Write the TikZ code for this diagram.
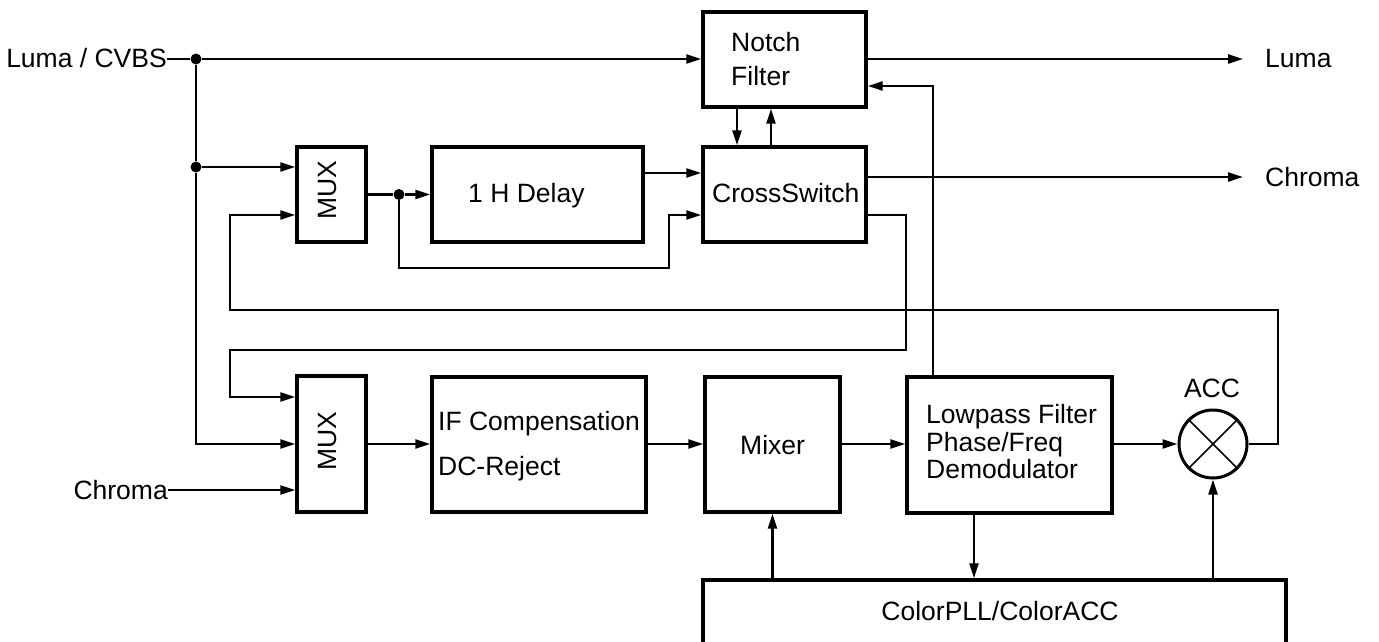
\documentclass[tikz,border=0pt]{standalone}
\usepackage{fontspec}
\setmainfont{Liberation Sans}
\usetikzlibrary{arrows.meta}
\begin{document}
\begin{tikzpicture}[x=1pt,y=-1pt,
  box/.style={draw,line width=3.4pt,rectangle,inner sep=0pt},
  lbl/.style={inner sep=0pt,font=\fontsize{26.5}{30}\selectfont},
  wire/.style={line width=2.2pt},
  arr/.style={wire,-{Triangle[length=15pt,width=9pt]}},
  jdot/.style={circle,fill,inner sep=0pt,minimum size=11pt}]
\useasboundingbox (0,0) rectangle (1379,642);
% blocks
\node[box,minimum width=69pt,minimum height=95pt] (umux) at (331.5,194.5) {};
\node[box,minimum width=211pt,minimum height=95pt] (delay) at (537.5,194.5) {};
\node[box,minimum width=163pt,minimum height=95pt] (cross) at (784.5,194.5) {};
\node[box,minimum width=163pt,minimum height=95pt] (notch) at (784.5,59.5) {};
\node[box,minimum width=69pt,minimum height=136pt] (lmux) at (331.5,444) {};
\node[box,minimum width=214pt,minimum height=135pt] (ifc) at (539,444.5) {};
\node[box,minimum width=135pt,minimum height=135pt] (mixer) at (772.5,444.5) {};
\node[box,minimum width=205pt,minimum height=136pt] (lpf) at (1009.5,445) {};
\node[box,minimum width=583pt,minimum height=80pt] (pll) at (994.5,620) {};
\node[draw,circle,line width=3pt,minimum size=68pt,inner sep=0pt] (acc) at (1213,444) {};
\draw[line width=1.5pt] (acc.north west) -- (acc.south east) (acc.north east) -- (acc.south west);
% texts
\node[lbl,anchor=base east] (lumain) at (167,67) {Luma / CVBS};
\node[lbl,anchor=base east] (chromain) at (168,499) {Chroma};
\node[lbl,anchor=base west] (notchA) at (731,52) {Notch};
\node[lbl,anchor=base west] (notchB) at (731,85) {Filter};
\node[lbl,anchor=base west] (delayT) at (468,202) {1 H Delay};
\node[lbl,anchor=base west] (crossT) at (712,202) {CrossSwitch};
\node[lbl,rotate=90] (umuxT) at (328,190.5) {MUX};
\node[lbl,rotate=90] (lmuxT) at (328,441.5) {MUX};
\node[lbl,anchor=base west] (ifA) at (438,430) {IF Compensation};
\node[lbl,anchor=base west] (ifB) at (438,475) {DC-Reject};
\node[lbl,anchor=base west] (mixT) at (740,454) {Mixer};
\node[lbl,anchor=base west] (lpfA) at (926,423) {Lowpass Filter};
\node[lbl,anchor=base west] (lpfB) at (926,451) {Phase/Freq};
\node[lbl,anchor=base west] (lpfC) at (926,478) {Demodulator};
\node[lbl,anchor=base] (accT) at (1212,397) {ACC};
\node[lbl,anchor=base] (pllT) at (1000,620) {ColorPLL/ColorACC};
\node[lbl,anchor=base west] (lumaout) at (1265,68) {Luma};
\node[lbl,anchor=base west] (chromaout) at (1265,186) {Chroma};
% junctions and ends
\node[jdot] (d1) at (196,59) {};
\node[jdot] (d2) at (196,167) {};
\node[jdot] (d3) at (399,194.5) {};
\coordinate (lumaend) at (1243,59);
\coordinate (chromaend) at (1243,177);
% connectors
\draw[wire] (lumain.east |- d1) -- (d1);
\draw[arr] (d1) -- (d1 -| notch.west);
\draw[wire] (d1) -- (d2);
\draw[arr] (d2) -- (d2 -| umux.west);
\draw[arr] (d2) |- (lmux.west);
\draw[wire] (umux.east) -- (d3);
\draw[arr] (d3) -- (delay.west);
\draw[arr] (d3) -- (399,268) -- (669,268) -- (669,215) -- (cross.west |- 0,215);
\draw[arr] (delay.east |- 0,173) -- (cross.west |- 0,173);
\draw[arr] (notch.south -| 737,0) -- (cross.north -| 737,0);
\draw[arr] (cross.north -| 771,0) -- (notch.south -| 771,0);
\draw[arr] (notch.east |- lumaend) -- (lumaend);
\draw[arr] (cross.east |- chromaend) -- (chromaend);
\draw[arr] (cross.east |- 0,215) -- (906,215) -- (906,350) -- (230,350) -- (230,397) -- (lmux.west |- 0,397);
\draw[arr] (lpf.north -| 933,0) -- (933,86) -- (notch.east |- 0,86);
\draw[arr] (acc.east) -- (1278,444) -- (1278,310) -- (230,310) -- (230,215) -- (umux.west |- 0,215);
\draw[arr] (chromain.east |- 0,490) -- (lmux.west |- 0,490);
\draw[arr] (lmux.east) -- (ifc.west |- lmux.east);
\draw[arr] (ifc.east |- lmux.east) -- (mixer.west |- lmux.east);
\draw[arr] (mixer.east |- lmux.east) -- (lpf.west |- lmux.east);
\draw[arr] (lpf.east |- acc) -- (acc.west);
\draw[arr] (lpf.south -| 974,0) -- (pll.north -| 974,0);
\draw[arr] (pll.north -| mixer) -- (mixer.south);
\draw[arr] (pll.north -| acc) -- (acc.south);
\end{tikzpicture}
\end{document}
